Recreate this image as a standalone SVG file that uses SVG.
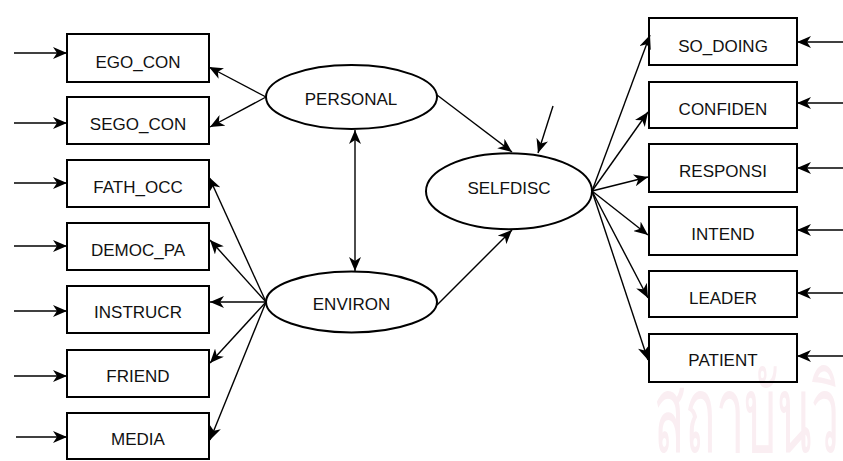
<svg xmlns="http://www.w3.org/2000/svg" width="843" height="461" viewBox="0 0 843 461">
<style>
.box{fill:none;stroke:#000;stroke-width:2}
.ell{fill:#fff;stroke:#000;stroke-width:2}
.lbl{font-family:"Liberation Sans",Arial,sans-serif;font-size:17px;fill:#111;text-anchor:middle}
.ln{fill:none;stroke:#000;stroke-width:1.4;marker-end:url(#ah)}
.wm{font-family:"Noto Sans","DejaVu Sans",sans-serif;font-size:108px;fill:#faeef2}
</style>
<defs>
<marker id="ah" markerUnits="userSpaceOnUse" markerWidth="15" markerHeight="12" refX="14" refY="6" orient="auto-start-reverse" viewBox="0 0 15 12">
<path d="M0,0 L14,6 L0,12 L4,6 z" fill="#000"/>
</marker>
</defs>
<rect width="843" height="461" fill="#fff"/>
<text class="wm" x="654" y="452" textLength="186" lengthAdjust="spacingAndGlyphs">สถาบันวิ</text>
<g id="connectors">
<line class="ln" x1="14" y1="53" x2="67" y2="53"/>
<line class="ln" x1="14" y1="123" x2="67" y2="123"/>
<line class="ln" x1="14" y1="183" x2="67" y2="183"/>
<line class="ln" x1="14" y1="246" x2="67" y2="246"/>
<line class="ln" x1="14" y1="311" x2="67" y2="311"/>
<line class="ln" x1="14" y1="376" x2="67" y2="376"/>
<line class="ln" x1="16" y1="437" x2="67" y2="437"/>
<line class="ln" x1="843" y1="42" x2="797" y2="42"/>
<line class="ln" x1="843" y1="103" x2="797" y2="103"/>
<line class="ln" x1="843" y1="168" x2="797" y2="168"/>
<line class="ln" x1="843" y1="230" x2="797" y2="230"/>
<line class="ln" x1="843" y1="293" x2="797" y2="293"/>
<line class="ln" x1="843" y1="356" x2="797" y2="356"/>
<line class="ln" x1="266" y1="97" x2="209" y2="67"/>
<line class="ln" x1="266" y1="97" x2="210" y2="127"/>
<line class="ln" x1="437" y1="95" x2="512" y2="152"/>
<line class="ln" x1="553" y1="106" x2="538" y2="153"/>
<line class="ln" x1="355" y1="130" x2="355" y2="271" marker-start="url(#ah)"/>
<line class="ln" x1="437" y1="305" x2="512" y2="230"/>
<line class="ln" x1="266" y1="302" x2="209" y2="177"/>
<line class="ln" x1="266" y1="302" x2="210" y2="240"/>
<line class="ln" x1="266" y1="302" x2="210" y2="302"/>
<line class="ln" x1="266" y1="302" x2="210" y2="363"/>
<line class="ln" x1="266" y1="302" x2="210" y2="440"/>
<line class="ln" x1="592" y1="191" x2="650" y2="35"/>
<line class="ln" x1="592" y1="191" x2="648" y2="112"/>
<line class="ln" x1="592" y1="191" x2="648" y2="177"/>
<line class="ln" x1="592" y1="191" x2="648" y2="235"/>
<line class="ln" x1="592" y1="191" x2="648" y2="298"/>
<line class="ln" x1="592" y1="191" x2="648" y2="360"/>
</g>
<g id="EGO_CON"><rect class="box" x="67" y="34" width="142" height="48"/><text class="lbl" x="138" y="68">EGO_CON</text></g>
<g id="SEGO_CON"><rect class="box" x="67" y="97" width="142" height="47"/><text class="lbl" x="138" y="130">SEGO_CON</text></g>
<g id="FATH_OCC"><rect class="box" x="67" y="160" width="142" height="47"/><text class="lbl" x="138" y="193">FATH_OCC</text></g>
<g id="DEMOC_PA"><rect class="box" x="67" y="223" width="142" height="47"/><text class="lbl" x="138" y="256">DEMOC_PA</text></g>
<g id="INSTRUCR"><rect class="box" x="67" y="286" width="142" height="47"/><text class="lbl" x="138" y="318">INSTRUCR</text></g>
<g id="FRIEND"><rect class="box" x="67" y="350" width="142" height="47"/><text class="lbl" x="138" y="382">FRIEND</text></g>
<g id="MEDIA"><rect class="box" x="67" y="413" width="142" height="46"/><text class="lbl" x="138" y="445">MEDIA</text></g>
<g id="SO_DOING"><rect class="box" x="649" y="18" width="148" height="47"/><text class="lbl" x="723" y="52">SO_DOING</text></g>
<g id="CONFIDEN"><rect class="box" x="649" y="82" width="148" height="46"/><text class="lbl" x="723" y="115">CONFIDEN</text></g>
<g id="RESPONSI"><rect class="box" x="649" y="144" width="148" height="48"/><text class="lbl" x="723" y="177">RESPONSI</text></g>
<g id="INTEND"><rect class="box" x="649" y="207" width="148" height="48"/><text class="lbl" x="723" y="240">INTEND</text></g>
<g id="LEADER"><rect class="box" x="649" y="271" width="148" height="46"/><text class="lbl" x="723" y="304">LEADER</text></g>
<g id="PATIENT"><rect class="box" x="649" y="334" width="148" height="48"/><text class="lbl" x="723" y="366">PATIENT</text></g>
<g id="PERSONAL"><ellipse class="ell" cx="351.5" cy="97" rx="85.5" ry="32"/><text class="lbl" x="351" y="105">PERSONAL</text></g>
<g id="SELFDISC"><ellipse class="ell" cx="509" cy="191.3" rx="83" ry="38"/><text class="lbl" x="509" y="194">SELFDISC</text></g>
<g id="ENVIRON"><ellipse class="ell" cx="351.5" cy="302" rx="85.5" ry="30.5"/><text class="lbl" x="351.5" y="310">ENVIRON</text></g>
</svg>
